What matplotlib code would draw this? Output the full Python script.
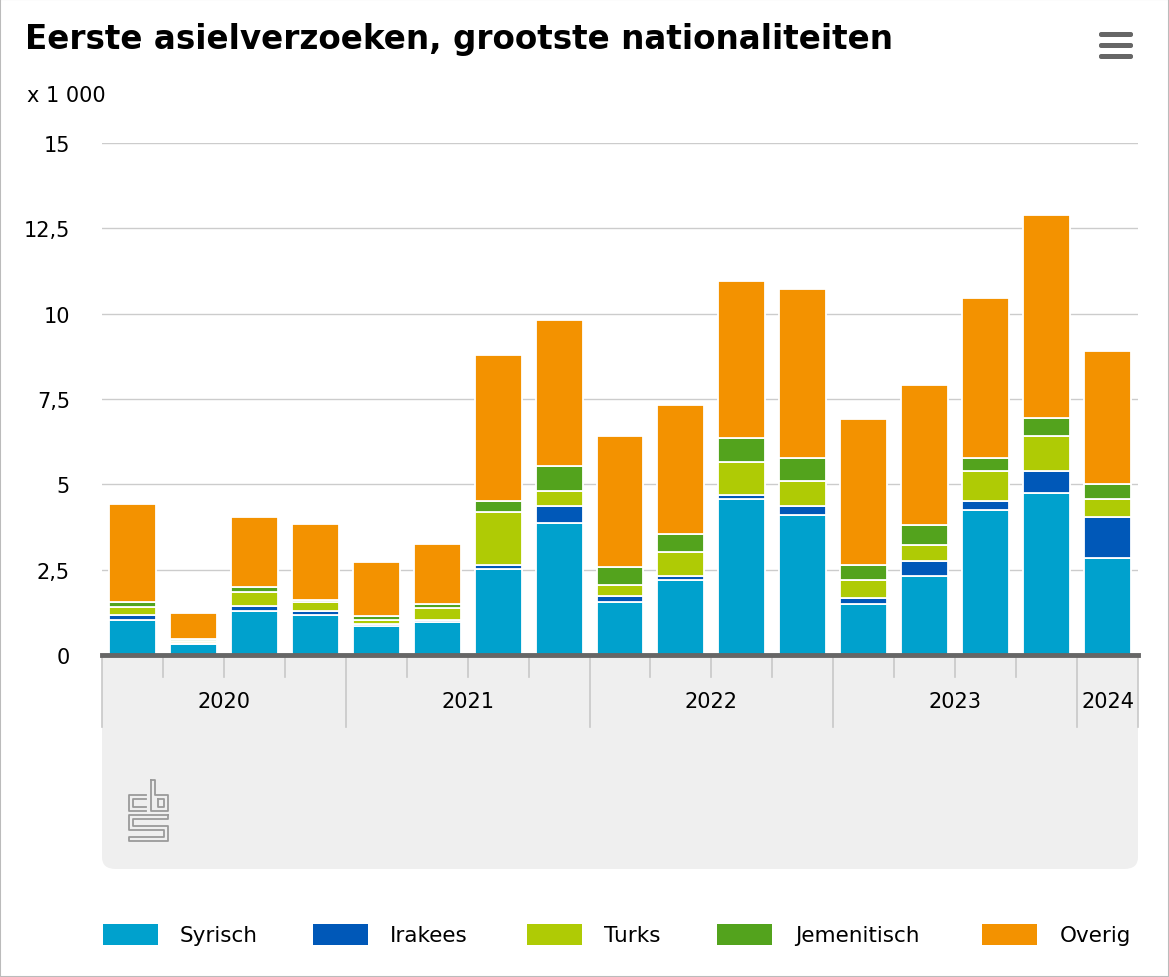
import numpy as np
import matplotlib
matplotlib.use("Agg")
import matplotlib.pyplot as plt
from matplotlib.patches import Rectangle, FancyBboxPatch
from matplotlib.transforms import blended_transform_factory

# data (x 1 000)
quarters = ["2020 Q1", "2020 Q2", "2020 Q3", "2020 Q4",
            "2021 Q1", "2021 Q2", "2021 Q3", "2021 Q4",
            "2022 Q1", "2022 Q2", "2022 Q3", "2022 Q4",
            "2023 Q1", "2023 Q2", "2023 Q3", "2023 Q4",
            "2024 Q1"]
syrisch = [1.02, 0.32, 1.28, 1.17, 0.85, 0.96, 2.52, 3.87, 1.56, 2.21, 4.57, 4.11, 1.48, 2.31, 4.25, 4.75, 2.84]
irakees = [0.15, 0.04, 0.15, 0.12, 0.06, 0.06, 0.13, 0.49, 0.18, 0.11, 0.12, 0.25, 0.20, 0.45, 0.25, 0.65, 1.21]
turks = [0.25, 0.06, 0.42, 0.25, 0.12, 0.37, 1.53, 0.45, 0.32, 0.71, 0.97, 0.73, 0.52, 0.46, 0.90, 1.03, 0.52]
jemenitisch = [0.12, 0.05, 0.15, 0.08, 0.10, 0.10, 0.32, 0.73, 0.52, 0.52, 0.70, 0.69, 0.44, 0.58, 0.38, 0.51, 0.44]
overig = [2.88, 0.75, 2.03, 2.23, 1.58, 1.76, 4.29, 4.28, 3.83, 3.77, 4.60, 4.94, 4.27, 4.11, 4.68, 5.95, 3.90]

series_names = ["Syrisch", "Irakees", "Turks", "Jemenitisch", "Overig"]
series_colors = ["#00a1cd", "#0058b8", "#afcb05", "#53a31d", "#f39200"]
years = ["2020", "2021", "2022", "2023", "2024"]
quarters_per_year = [4, 4, 4, 4, 1]
yticks = [0, 2.5, 5, 7.5, 10, 12.5, 15]
ytick_labels = ["0", "2,5", "5", "7,5", "10", "12,5", "15"]

W, H = 1169, 978
def fx(px):
    return px / W
def fy(py):
    return 1 - py / H

plt.rcParams['font.family'] = ['DejaVu Sans']
fig = plt.figure(figsize=(W / 100, H / 100), dpi=100)
fig.patch.set_facecolor("white")

# outer border
fig.add_artist(Rectangle((0, 0), 1, 1, transform=fig.transFigure, fill=False,
                         edgecolor="#bbbbbb", linewidth=1.5))

# gray panel below the plot
fig.add_artist(FancyBboxPatch((fx(102), fy(870)), fx(1138) - fx(102), fy(660) - fy(870),
                              boxstyle="round,pad=0,rounding_size=0.012",
                              transform=fig.transFigure, facecolor="#efefef",
                              edgecolor="none", zorder=0))
fig.add_artist(Rectangle((fx(102), fy(700)), fx(1138) - fx(102), fy(657) - fy(700),
                         transform=fig.transFigure, facecolor="#efefef",
                         edgecolor="none", zorder=0))

ax = fig.add_axes([fx(102), fy(656), fx(1138) - fx(102), fy(144) - fy(656)])
x = np.arange(len(quarters))
bottom = np.zeros(len(quarters))
for name, vals, col in zip(series_names, [syrisch, irakees, turks, jemenitisch, overig], series_colors):
    ax.bar(x, vals, bottom=bottom, width=0.77, color=col, edgecolor="white",
           linewidth=1.3, zorder=3, label=name)
    bottom += np.array(vals)

ax.set_xlim(-0.5, len(quarters) - 0.5)
ax.set_ylim(0, 15)
ax.set_yticks(yticks)
ax.set_yticklabels(ytick_labels, fontsize=15, color="#000000")
ax.tick_params(axis="y", length=0, pad=23)
ax.set_xticks([])
ax.grid(axis="y", color="#cccccc", linewidth=1, zorder=0)
for s in ["top", "right", "left"]:
    ax.spines[s].set_visible(False)
ax.spines["bottom"].set_color("#666666")
ax.spines["bottom"].set_linewidth(3.5)
ax.spines["bottom"].set_zorder(5)

# category axis: quarter ticks and year separators
tr = blended_transform_factory(ax.transData, fig.transFigure)
pos = -0.5
for yr, n in zip(years, quarters_per_year):
    ax.plot([pos, pos], [fy(658), fy(728)], transform=tr, color="#c8c8c8",
            linewidth=1.2, clip_on=False)
    for q in range(1, n):
        ax.plot([pos + q, pos + q], [fy(658), fy(678)], transform=tr,
                color="#c8c8c8", linewidth=1.2, clip_on=False)
    ax.text(pos + n / 2, fy(702), yr, transform=tr, ha="center", va="center",
            fontsize=15, color="#000000")
    pos += n
ax.plot([pos, pos], [fy(658), fy(728)], transform=tr, color="#c8c8c8",
        linewidth=1.2, clip_on=False)

# title and unit
fig.text(fx(25), fy(40), "Eerste asielverzoeken, grootste nationaliteiten",
         fontsize=23.5, fontweight="bold", ha="left", va="center", color="#000000")
fig.text(fx(27), fy(96), "x 1 000", fontsize=15, ha="left", va="center", color="#000000")

# menu icon
for yy in [35, 46, 57]:
    fig.add_artist(FancyBboxPatch((fx(1099), fy(yy + 3)), fx(1133) - fx(1099), fy(yy - 2) - fy(yy + 3),
                                  boxstyle="round,pad=0,rounding_size=0.002",
                                  transform=fig.transFigure, facecolor="#666666",
                                  edgecolor="none"))

# cbs logo (rough outline)
logo_col = "#9a9a9a"
def pline(pts):
    xs = [fx(p[0]) for p in pts]
    ys = [fy(p[1]) for p in pts]
    fig.add_artist(plt.Line2D(xs, ys, transform=fig.transFigure, color=logo_col, linewidth=1.3))
# c
pline([(146, 796), (129, 796), (129, 812), (146, 812)])
pline([(146, 800), (133, 800), (133, 808), (146, 808)])
# b
pline([(151, 781), (151, 812), (168, 812), (168, 796), (155, 796), (155, 781), (151, 781)])
pline([(158, 800), (164, 800), (164, 808), (158, 808), (158, 800)])
# s
pline([(168, 816), (129, 816), (129, 831), (164, 831), (164, 838), (129, 838), (129, 842), (168, 842), (168, 827), (133, 827), (133, 820), (168, 820), (168, 816)])

# legend
legend_items = [(103, 180), (313, 390), (527, 604), (717, 795), (982, 1060)]
for (px, tx), name, col in zip(legend_items, series_names, series_colors):
    fig.add_artist(Rectangle((fx(px), fy(946)), fx(158) - fx(103), fy(925) - fy(946),
                             transform=fig.transFigure, facecolor=col, edgecolor="none"))
    fig.text(fx(tx), fy(936), name, fontsize=15.5, ha="left", va="center", color="#000000")

fig.savefig("out.png", dpi=100)
